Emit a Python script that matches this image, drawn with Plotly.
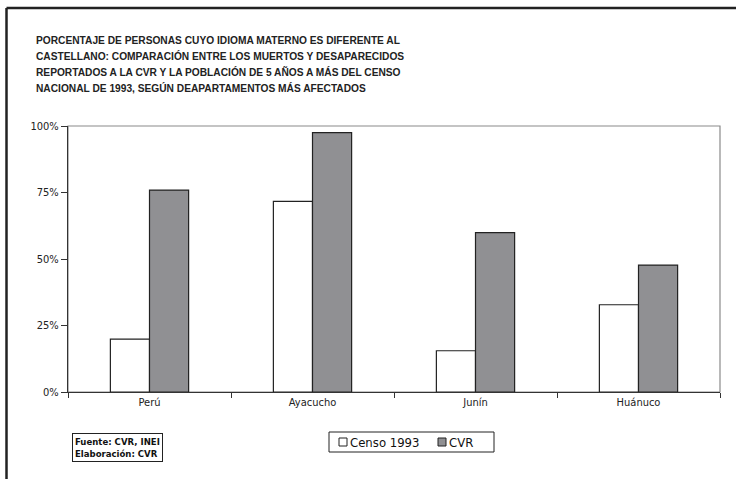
import plotly.graph_objects as go

# Departamentos y porcentajes (idioma materno distinto al castellano)
departamentos = ["Perú", "Ayacucho", "Junín", "Huánuco"]
censo_1993 = [0.199, 0.717, 0.155, 0.328]
cvr = [0.759, 0.975, 0.599, 0.477]

series_names = ["Censo 1993", "CVR"]
titulo = [
    "PORCENTAJE DE PERSONAS CUYO IDIOMA MATERNO ES DIFERENTE AL",
    "CASTELLANO: COMPARACIÓN ENTRE LOS MUERTOS Y DESAPARECIDOS",
    "REPORTADOS A LA CVR Y LA POBLACIÓN DE 5 AÑOS A MÁS DEL CENSO",
    "NACIONAL DE 1993, SEGÚN DEAPARTAMENTOS MÁS AFECTADOS",
]
y_ticks = [0, 0.25, 0.5, 0.75, 1.0]
y_labels = ["0%", "25%", "50%", "75%", "100%"]

NARROW = "Liberation Sans Narrow, Arial Narrow, DejaVu Sans Condensed, sans-serif"
FILLS = ["white", "#909093"]
EDGE = "#222222"

W, H = 736, 479
L, R, T, B = 68, 16, 126, 87
PW, PH = W - L - R, H - T - B


def px(x):
    """Posición horizontal en píxeles de la página -> fracción del área de trazado."""
    return (x - L) / PW


def py(y):
    """Posición vertical en píxeles (desde arriba) -> fracción del área de trazado."""
    return (H - B - y) / PH


fig = go.Figure()
for name, vals, fill in zip(series_names, [censo_1993, cvr], FILLS):
    fig.add_trace(go.Bar(
        name=name, x=departamentos, y=vals,
        marker=dict(color=fill, line=dict(color=EDGE, width=1.2)),
    ))

annotations = []
for i, line in enumerate(titulo):
    annotations.append(dict(
        xref="paper", yref="paper", x=px(34), y=py(40 + 16 * i),
        xanchor="left", yanchor="middle", showarrow=False, text=line,
        font=dict(family="Liberation Sans, Arial, sans-serif", size=10.2,
                  color="#222222", weight="bold"),
    ))

# Nota de fuente en recuadro
annotations.append(dict(
    xref="paper", yref="paper", x=px(72), y=py(433),
    xanchor="left", yanchor="top", showarrow=False, align="left",
    text="Fuente: CVR, INEI<br>Elaboración: CVR",
    font=dict(family=NARROW, size=9.5, color="#111111", weight="bold"),
    bordercolor=EDGE, borderwidth=1, borderpad=2, bgcolor="white",
))

shapes = [
    # marco del área de trazado (superior y derecha en gris)
    dict(type="rect", xref="paper", yref="paper", x0=0, x1=1, y0=0, y1=1,
         line=dict(color="#8a8a8a", width=1.2), layer="below"),
    # marco exterior de la figura
    dict(type="line", xref="paper", yref="paper", x0=px(6.5), x1=px(W + 5),
         y0=py(8), y1=py(8), line=dict(color="#222222", width=2.5)),
    dict(type="line", xref="paper", yref="paper", x0=px(6.5), x1=px(6.5),
         y0=py(8), y1=py(H + 5), line=dict(color="#222222", width=2.5)),
    # recuadro de la leyenda
    dict(type="rect", xref="paper", yref="paper", x0=px(329), x1=px(494),
         y0=py(432), y1=py(452), line=dict(color=EDGE, width=1), fillcolor="white"),
]

# Leyenda: muestra de color pegada a cada nombre de serie
legend_swatch_x = [339, 438]
for name, fill, sx in zip(series_names, FILLS, legend_swatch_x):
    shapes.append(dict(type="rect", xref="paper", yref="paper",
                       x0=px(sx), x1=px(sx + 8), y0=py(446), y1=py(438),
                       line=dict(color=EDGE, width=1), fillcolor=fill))
    annotations.append(dict(
        xref="paper", yref="paper", x=px(sx + 9), y=py(442.5),
        xanchor="left", yanchor="middle", showarrow=False, text=name,
        font=dict(family=NARROW, size=13, color="#111111"),
    ))

fig.update_layout(
    width=W, height=H,
    margin=dict(l=L, r=R, t=T, b=B, pad=0),
    paper_bgcolor="white", plot_bgcolor="white",
    barmode="group", bargap=0.52, bargroupgap=0,
    showlegend=False,
    annotations=annotations,
    shapes=shapes,
    xaxis=dict(
        type="category", showline=True, linecolor="#333333", linewidth=1.2,
        ticks="outside", tickson="boundaries", ticklen=5, tickcolor="#333333",
        tickfont=dict(family=NARROW, size=11, color="#222222"),
        showgrid=False, zeroline=False, fixedrange=True,
    ),
    yaxis=dict(
        range=[0, 1], tickvals=y_ticks, ticktext=y_labels,
        showline=True, linecolor="#333333", linewidth=1.2,
        ticks="outside", ticklen=6, tickcolor="#333333",
        tickfont=dict(family=NARROW, size=11, color="#222222"),
        showgrid=False, zeroline=False, fixedrange=True,
    ),
)

fig.write_html("out.html", config={"displayModeBar": False})
